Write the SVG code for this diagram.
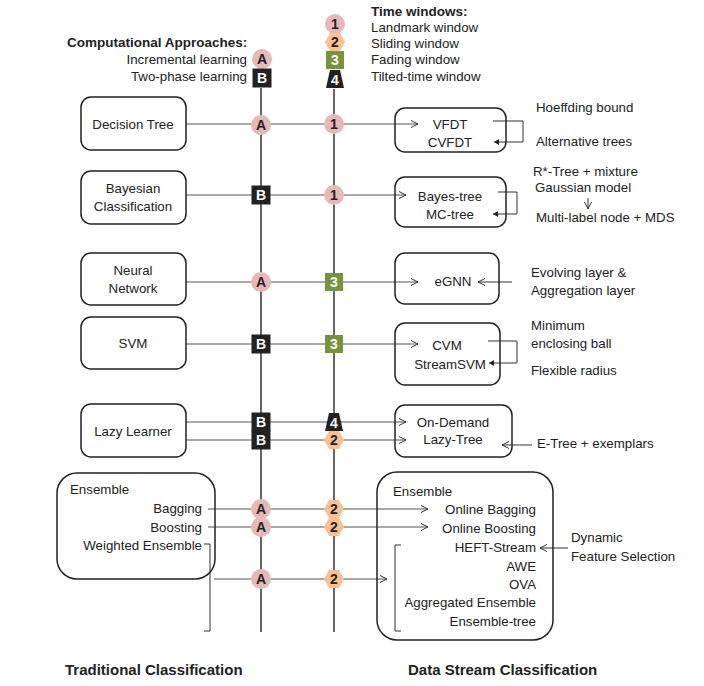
<svg xmlns="http://www.w3.org/2000/svg" width="704" height="686" viewBox="0 0 704 686">
<style>
text{font-family:"Liberation Sans",Arial,sans-serif;font-size:13.3px;fill:#222}
.b{font-weight:bold;font-size:13.5px}
.t{font-weight:bold;font-size:15px}
.m{text-anchor:middle}
.e{text-anchor:end}
.box{fill:#fff;stroke:#222;stroke-width:1.5}
.vl{stroke:#666;stroke-width:2;fill:none}
.hl{stroke:#555;stroke-width:1.2;fill:none}
.ln{stroke:#333;stroke-width:1;fill:none}
.bt{font-weight:bold;font-size:14px;text-anchor:middle}
.pk{fill:#E6B9B8}
.or{fill:#FAC090}
.gr{fill:#77933C}
.bk{fill:#222}
</style>
<defs>
<marker id="ao" markerUnits="userSpaceOnUse" markerWidth="10" markerHeight="10" refX="8" refY="4" orient="auto"><path d="M1,0.5 L8,4 L1,7.5" fill="none" stroke="#333" stroke-width="1"/></marker>
<marker id="af" markerUnits="userSpaceOnUse" markerWidth="8" markerHeight="8" refX="5" refY="3" orient="auto"><path d="M0,0 L5,3 L0,6 Z" fill="#222"/></marker>
<g id="bA"><circle r="10" class="pk"/><text y="5" class="bt">A</text></g>
<g id="bB"><rect x="-9.5" y="-9.5" width="19" height="19" class="bk"/><text y="5" class="bt" style="fill:#fff">B</text></g>
<g id="b1"><circle r="10" class="pk"/><text y="5" class="bt">1</text></g>
<g id="b2"><path d="M-5,-9 L5,-9 L10,0 L5,9 L-5,9 L-10,0 Z" class="or"/><text y="5" class="bt">2</text></g>
<g id="b3"><rect x="-9" y="-9" width="18" height="18" class="gr"/><text y="5" class="bt" style="fill:#fff">3</text></g>
<g id="b4"><path d="M-5,-9 L5,-9 L9,9 L-9,9 Z" class="bk"/><text y="6" class="bt" style="fill:#fff">4</text></g>
</defs>
<rect width="704" height="686" fill="#fff"/>

<g id="legend">
<text x="67" y="47" class="b">Computational Approaches:</text>
<text x="247" y="64" class="e">Incremental learning</text>
<text x="247" y="81" class="e">Two-phase learning</text>
<use href="#bA" x="262" y="59"/>
<use href="#bB" x="262" y="78"/>
<text x="371" y="16" class="b">Time windows:</text>
<text x="371" y="32">Landmark window</text>
<text x="371" y="48">Sliding window</text>
<text x="371" y="64">Fading window</text>
<text x="371" y="81">Tilted-time window</text>
</g>

<g id="connectors">
<line x1="261" y1="88" x2="261" y2="632" class="vl"/>
<line x1="334" y1="89" x2="334" y2="632" class="vl"/>
<line x1="186" y1="124" x2="418" y2="124" class="hl" marker-end="url(#ao)"/>
<line x1="179" y1="195" x2="406" y2="195" class="hl" marker-end="url(#ao)"/>
<line x1="179" y1="282" x2="418" y2="282" class="hl" marker-end="url(#ao)"/>
<line x1="173" y1="344" x2="418" y2="344" class="hl" marker-end="url(#ao)"/>
<line x1="179" y1="422" x2="406" y2="422" class="hl" marker-end="url(#ao)"/>
<line x1="179" y1="440" x2="406" y2="440" class="hl" marker-end="url(#ao)"/>
<line x1="208" y1="509" x2="428" y2="509" class="hl" marker-end="url(#ao)"/>
<line x1="208" y1="527" x2="428" y2="527" class="hl" marker-end="url(#ao)"/>
<line x1="214" y1="579" x2="387" y2="579" class="hl" marker-end="url(#ao)"/>
<path d="M204,544 H210 V631 H204" class="ln"/>
<path d="M401,545 H395 V631 H401" class="ln"/>
<path d="M493,121 H523 V142 H494" class="ln" marker-end="url(#af)"/>
<path d="M498,192 H517 V214 H493" class="ln" marker-end="url(#af)"/>
<path d="M488,341 H517 V363 H489" class="ln" marker-end="url(#af)"/>
<line x1="512" y1="282" x2="478" y2="282" class="ln" marker-end="url(#ao)"/>
<line x1="532" y1="445" x2="502" y2="445" class="ln" marker-end="url(#ao)"/>
<line x1="568" y1="548" x2="540" y2="548" class="ln" marker-end="url(#ao)"/>
<line x1="588" y1="198" x2="588" y2="209" class="ln" marker-end="url(#ao)"/>
</g>

<g id="badges">
<use href="#b1" x="335" y="24"/>
<use href="#b2" x="335" y="42"/>
<use href="#b3" x="335" y="60"/>
<use href="#b4" x="335" y="79"/>
<use href="#bA" x="261" y="125"/>
<use href="#b1" x="334" y="124"/>
<use href="#bB" x="261" y="195"/>
<use href="#b1" x="334" y="195"/>
<use href="#bA" x="261" y="282"/>
<use href="#b3" x="334" y="282"/>
<use href="#bB" x="261" y="344"/>
<use href="#b3" x="334" y="344"/>
<use href="#bB" x="261" y="422"/>
<use href="#b4" x="334" y="422"/>
<use href="#bB" x="261" y="440"/>
<use href="#b2" x="334" y="440"/>
<use href="#bA" x="261" y="509"/>
<use href="#b2" x="334" y="509"/>
<use href="#bA" x="261" y="527"/>
<use href="#b2" x="334" y="527"/>
<use href="#bA" x="261" y="579"/>
<use href="#b2" x="334" y="579"/>
</g>

<g id="decision-tree"><rect x="81" y="97" width="105" height="53" rx="10" class="box"/><text x="133" y="129" class="m">Decision Tree</text></g>
<g id="bayesian"><rect x="81" y="171" width="105" height="53" rx="10" class="box"/><text x="133" y="193" class="m">Bayesian</text><text x="133" y="211" class="m">Classification</text></g>
<g id="neural-network"><rect x="81" y="253" width="105" height="52" rx="10" class="box"/><text x="133" y="275" class="m">Neural</text><text x="133" y="293" class="m">Network</text></g>
<g id="svm"><rect x="81" y="317" width="105" height="52" rx="10" class="box"/><text x="133" y="348" class="m">SVM</text></g>
<g id="lazy-learner"><rect x="81" y="404" width="105" height="53" rx="10" class="box"/><text x="133" y="436" class="m">Lazy Learner</text></g>
<g id="ensemble-left"><rect x="57" y="473" width="158" height="106" rx="20" class="box" style="fill:none"/><text x="70" y="494">Ensemble</text><text x="202" y="513" class="e">Bagging</text><text x="202" y="532" class="e">Boosting</text><text x="202" y="550" class="e">Weighted Ensemble</text></g>

<g id="vfdt"><rect x="395" y="108" width="111" height="44" rx="10" class="box" style="fill:none"/><text x="450" y="129" class="m">VFDT</text><text x="450" y="147" class="m">CVFDT</text></g>
<g id="bayes-tree"><rect x="395" y="177" width="111" height="50" rx="10" class="box" style="fill:none"/><text x="450" y="201" class="m">Bayes-tree</text><text x="450" y="219" class="m">MC-tree</text></g>
<g id="egnn"><rect x="395" y="253" width="104" height="51" rx="10" class="box" style="fill:none"/><text x="453" y="286" class="m">eGNN</text></g>
<g id="cvm"><rect x="395" y="323" width="105" height="62" rx="10" class="box" style="fill:none"/><text x="447" y="350" class="m">CVM</text><text x="450" y="369" class="m">StreamSVM</text></g>
<g id="on-demand"><rect x="395" y="405" width="117" height="52" rx="10" class="box" style="fill:none"/><text x="453" y="427" class="m">On-Demand</text><text x="453" y="444" class="m">Lazy-Tree</text></g>
<g id="ensemble-right"><rect x="377" y="472" width="176" height="168" rx="20" class="box" style="fill:none"/><text x="393" y="496">Ensemble</text><text x="536" y="514" class="e">Online Bagging</text><text x="536" y="533" class="e">Online Boosting</text><text x="536" y="552" class="e">HEFT-Stream</text><text x="536" y="571" class="e">AWE</text><text x="536" y="589" class="e">OVA</text><text x="536" y="607" class="e">Aggregated Ensemble</text><text x="536" y="626" class="e">Ensemble-tree</text></g>

<g id="annotations">
<text x="536" y="112">Hoeffding bound</text>
<text x="536" y="146">Alternative trees</text>
<text x="533" y="176">R*-Tree + mixture</text>
<text x="535" y="192">Gaussian model</text>
<text x="536" y="222">Multi-label node + MDS</text>
<text x="531" y="277">Evolving layer &amp;</text>
<text x="531" y="295">Aggregation layer</text>
<text x="531" y="330">Minimum</text>
<text x="531" y="348">enclosing ball</text>
<text x="531" y="375">Flexible radius</text>
<text x="537" y="448">E-Tree + exemplars</text>
<text x="571" y="542">Dynamic</text>
<text x="571" y="561">Feature Selection</text>
</g>

<g id="titles">
<text x="65" y="675" class="t">Traditional Classification</text>
<text x="408" y="675" class="t">Data Stream Classification</text>
</g>
</svg>
